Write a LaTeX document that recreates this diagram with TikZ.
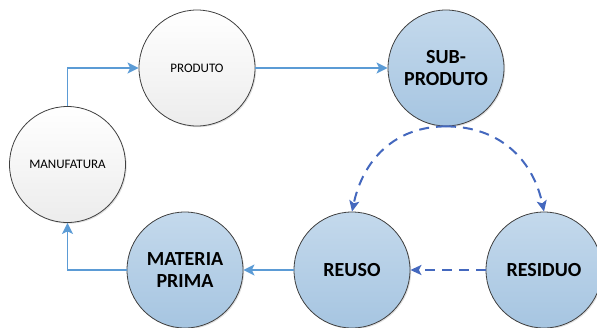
\documentclass[tikz,border=0pt]{standalone}
\usepackage{fontspec}
\setmainfont{Carlito}
\usetikzlibrary{arrows.meta,shadows}
\definecolor{flowblue}{RGB}{91,155,213}
\definecolor{loopblue}{RGB}{68,104,190}
\definecolor{discTop}{RGB}{196,217,236}
\definecolor{discBot}{RGB}{166,197,225}
\definecolor{paleTop}{RGB}{255,255,255}
\definecolor{paleBot}{RGB}{236,236,236}
\tikzset{
  disc/.style={circle, minimum size=116pt, inner sep=0pt, draw=black!75, line width=0.8pt,
    drop shadow={shadow xshift=1.2pt, shadow yshift=-1.2pt, opacity=0.25, fill=black!50},
    align=center},
  palenode/.style={disc, top color=paleTop, bottom color=paleBot,
    font=\fontsize{13}{15}\selectfont},
  bluenode/.style={disc, top color=discTop, bottom color=discBot,
    font=\fontsize{20}{22}\selectfont\bfseries},
  flow/.style={draw=flowblue, line width=1.8pt, -{Stealth[length=11pt,width=11pt,inset=2.5pt]}},
  loop/.style={draw=loopblue, line width=2pt, dash pattern=on 10pt off 7pt,
    -{Stealth[length=11pt,width=10pt,inset=2.5pt]}}
}
\begin{document}
\begin{tikzpicture}[x=1pt, y=-1pt]
  \useasboundingbox (0,0) rectangle (597,327);
  \clip (0,0) rectangle (597,327);
  \node[palenode] (prod) at (197,68) {PRODUTO};
  \node[palenode] (manu) at (67.5,164.5) {MANUFATURA};
  \node[bluenode] (sub)  at (446,68) {SUB-\\PRODUTO};
  \node[bluenode] (mat)  at (185,270) {MATERIA\\PRIMA};
  \node[bluenode] (reu)  at (352,270) {REUSO};
  \node[bluenode] (res)  at (544,270) {RESIDUO};

  \draw[flow] (manu.north) |- (prod.west);
  \draw[flow] (prod.east) -- (sub.west);
  \draw[flow] (reu.west) -- (mat.east);
  \draw[flow] (mat.west) -| (manu.south);

  \draw[loop] (sub.south) to[out=180, in=78, looseness=1.05] (reu.north);
  \draw[loop] (sub.south) to[out=0, in=102, looseness=1.05] (res.north);
  \draw[loop] (res.west) -- (reu.east);
\end{tikzpicture}
\end{document}
